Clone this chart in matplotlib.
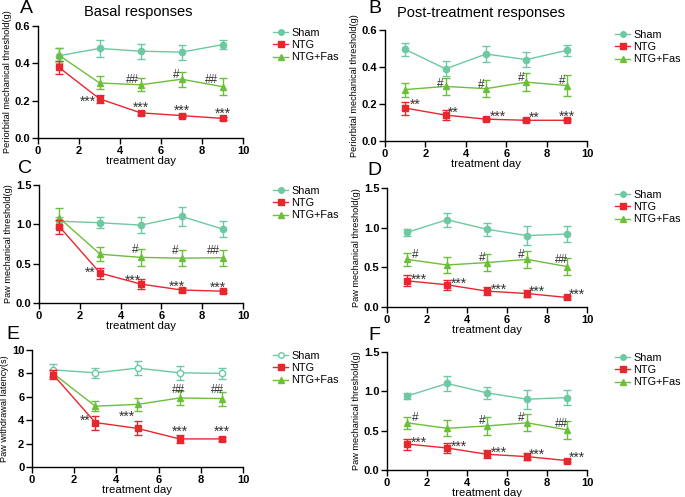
import matplotlib
matplotlib.use("Agg")
import matplotlib.pyplot as plt
from matplotlib.lines import Line2D

plt.rcParams['font.family'] = ['Liberation Sans', 'DejaVu Sans']

W, H = 685, 497
days = [1, 3, 5, 7, 9]

# ---- data ----
A_sham = [0.44, 0.48, 0.465, 0.46, 0.50]
A_sham_err = [0.04, 0.045, 0.04, 0.04, 0.025]
A_ntg = [0.38, 0.21, 0.135, 0.12, 0.105]
A_ntg_err = [0.035, 0.02, 0.01, 0.008, 0.006]
A_fas = [0.445, 0.295, 0.285, 0.315, 0.275]
A_fas_err = [0.035, 0.035, 0.035, 0.04, 0.045]

B_sham = [0.495, 0.39, 0.47, 0.44, 0.49]
B_sham_err = [0.035, 0.04, 0.045, 0.04, 0.03]
B_ntg = [0.178, 0.14, 0.118, 0.112, 0.112]
B_ntg_err = [0.035, 0.025, 0.005, 0.005, 0.005]
B_fas = [0.278, 0.295, 0.283, 0.318, 0.30]
B_fas_err = [0.038, 0.048, 0.045, 0.05, 0.058]

C_sham = [1.04, 1.02, 0.99, 1.10, 0.94]
C_sham_err = [0.05, 0.07, 0.10, 0.12, 0.10]
C_ntg = [0.97, 0.38, 0.24, 0.165, 0.15]
C_ntg_err = [0.09, 0.07, 0.06, 0.02, 0.02]
C_fas = [1.08, 0.62, 0.58, 0.57, 0.575]
C_fas_err = [0.13, 0.09, 0.11, 0.10, 0.10]

D_sham = [0.94, 1.10, 0.98, 0.90, 0.92]
D_sham_err = [0.04, 0.09, 0.08, 0.12, 0.10]
D_ntg = [0.33, 0.28, 0.20, 0.17, 0.12]
D_ntg_err = [0.07, 0.06, 0.05, 0.04, 0.02]
D_fas = [0.60, 0.53, 0.56, 0.60, 0.51]
D_fas_err = [0.08, 0.10, 0.11, 0.11, 0.11]

E_sham = [8.3, 8.05, 8.45, 8.05, 8.0]
E_sham_err = [0.5, 0.45, 0.6, 0.6, 0.5]
E_ntg = [7.9, 3.8, 3.3, 2.4, 2.4]
E_ntg_err = [0.4, 0.6, 0.6, 0.35, 0.2]
E_fas = [8.0, 5.2, 5.35, 5.9, 5.85]
E_fas_err = [0.3, 0.4, 0.55, 0.6, 0.6]

F_sham = D_sham
F_sham_err = D_sham_err
F_ntg = D_ntg
F_ntg_err = D_ntg_err
F_fas = D_fas
F_fas_err = D_fas_err

# annotations: (x, y, text)
A_ann = [(2.45, 0.195, '***'), (5.0, 0.16, '***'), (7.0, 0.145, '***'), (9.0, 0.13, '***'),
         (4.6, 0.31, '##'), (6.75, 0.335, '#'), (8.45, 0.31, '##')]
B_ann = [(1.5, 0.195, '**'), (3.4, 0.155, '**'), (5.6, 0.133, '***'), (7.4, 0.128, '**'), (9.0, 0.133, '***'),
         (2.75, 0.31, '#'), (4.75, 0.305, '#'), (6.75, 0.34, '#'), (8.75, 0.325, '#')]
C_ann = [(2.5, 0.38, '**'), (4.6, 0.28, '***'), (6.75, 0.2, '***'), (8.75, 0.19, '***'),
         (4.7, 0.67, '#'), (6.7, 0.66, '#'), (8.55, 0.66, '##')]
D_ann = [(1.6, 0.34, '***'), (3.6, 0.29, '***'), (5.6, 0.22, '***'), (7.5, 0.19, '***'), (9.5, 0.15, '***'),
         (1.4, 0.66, '#'), (4.75, 0.62, '#'), (6.7, 0.66, '#'), (8.7, 0.59, '##')]
E_ann = [(2.5, 3.95, '**'), (4.5, 4.25, '***'), (7.0, 3.05, '***'), (9.0, 3.05, '***'),
         (6.95, 6.55, '##'), (8.8, 6.55, '##')]
F_ann = D_ann

sham_c = '#6cc9a1'
ntg_c = '#e8262e'
fas_c = '#6cbf3a'
ann_c = '#333333'

fig = plt.figure(figsize=(W / 100, H / 100), dpi=100)


def box(l, t, r, b):
    return [l / W, 1 - b / H, (r - l) / W, (b - t) / H]


def panel(rect, sham, sham_e, ntg, ntg_e, fas, fas_e, ymax, yticks, ylabel, ann,
          leg_xy, open_sham=False):
    ax = fig.add_axes(box(*rect))
    lw = 1.0
    ax.errorbar(days, sham, yerr=sham_e, color=sham_c, marker='o', ms=4.5, lw=lw,
                capsize=3, elinewidth=1.0, capthick=1.0,
                mfc='white' if open_sham else sham_c, mec=sham_c, mew=1.0, zorder=3)
    ax.errorbar(days, fas, yerr=fas_e, color=fas_c, marker='^', ms=4.5, lw=lw,
                capsize=3, elinewidth=1.0, capthick=1.0, zorder=4)
    ax.errorbar(days, ntg, yerr=ntg_e, color=ntg_c, marker='s', ms=5, lw=lw,
                capsize=3, elinewidth=1.0, capthick=1.0, zorder=5)
    for x, y, t in ann:
        fs = 10 if '*' in t else 8.5
        ax.text(x, y, t, ha='center', va='center', fontsize=fs, color=ann_c, zorder=6)
    ax.set_xlim(0, 10)
    ax.set_ylim(0, ymax)
    ax.set_xticks([0, 2, 4, 6, 8, 10])
    ax.set_yticks(yticks)
    ax.set_yticklabels([f'{v:.1f}' if ymax < 5 else f'{int(v)}' for v in yticks])
    for s in ['top', 'right']:
        ax.spines[s].set_visible(False)
    for s in ['left', 'bottom']:
        ax.spines[s].set_linewidth(1.0)
    ax.tick_params(direction='out', length=4, width=1.0, labelsize=8, pad=1.5)
    for lab in ax.get_xticklabels() + ax.get_yticklabels():
        lab.set_fontweight('bold')
    ax.set_xlabel('treatment day', fontsize=8.2, labelpad=0)
    ax.set_ylabel(ylabel, fontsize=6.6, labelpad=2)
    handles = [
        Line2D([], [], color=sham_c, marker='o', ms=4, lw=1,
               mfc='white' if open_sham else sham_c, mec=sham_c),
        Line2D([], [], color=ntg_c, marker='s', ms=4.5, lw=1),
        Line2D([], [], color=fas_c, marker='^', ms=4, lw=1),
    ]
    lx, ly = leg_xy
    fig.legend(handles, ['Sham', 'NTG', 'NTG+Fas'], loc='upper left',
               bbox_to_anchor=(lx / W, 1 - ly / H), frameon=False, fontsize=7.8,
               handlelength=1.4, handletextpad=0.3, labelspacing=0.2,
               borderpad=0, borderaxespad=0)
    return ax


panel((38, 26, 243, 138), A_sham, A_sham_err, A_ntg, A_ntg_err, A_fas, A_fas_err,
      0.6, [0.0, 0.2, 0.4, 0.6], 'Periorbital mechanical threshold(g)', A_ann, (273, 28))
panel((385, 30, 587, 141), B_sham, B_sham_err, B_ntg, B_ntg_err, B_fas, B_fas_err,
      0.6, [0.0, 0.2, 0.4, 0.6], 'Periorbital mechanical threshold(g)', B_ann, (615, 30))
panel((39, 185, 243, 303), C_sham, C_sham_err, C_ntg, C_ntg_err, C_fas, C_fas_err,
      1.5, [0.0, 0.5, 1.0, 1.5], 'Paw mechanical threshold(g)', C_ann, (273, 186))
panel((387, 188, 587, 307), D_sham, D_sham_err, D_ntg, D_ntg_err, D_fas, D_fas_err,
      1.5, [0.0, 0.5, 1.0, 1.5], 'Paw mechanical threshold(g)', D_ann, (615, 190))
panel((32, 350, 243, 467), E_sham, E_sham_err, E_ntg, E_ntg_err, E_fas, E_fas_err,
      10, [0, 2, 4, 6, 8, 10], 'Paw withdrawal latency(s)', E_ann, (273, 351), open_sham=True)
panel((387, 352, 587, 470), F_sham, F_sham_err, F_ntg, F_ntg_err, F_fas, F_fas_err,
      1.5, [0.0, 0.5, 1.0, 1.5], 'Paw mechanical threshold(g)', F_ann, (615, 353))

# titles and panel letters
fig.text(138 / W, 1 - 12 / H, 'Basal responses', ha='center', va='center', fontsize=10.5)
fig.text(481 / W, 1 - 13 / H, 'Post-treatment responses', ha='center', va='center', fontsize=10.5)
for letter, x, y in [('A', 20, 0), ('B', 368, 0), ('C', 18, 160), ('D', 367, 162),
                     ('E', 6, 326), ('F', 368, 327)]:
    fig.text(x / W, 1 - y / H, letter, ha='left', va='top', fontsize=14)

fig.savefig('out.png', dpi=100)
